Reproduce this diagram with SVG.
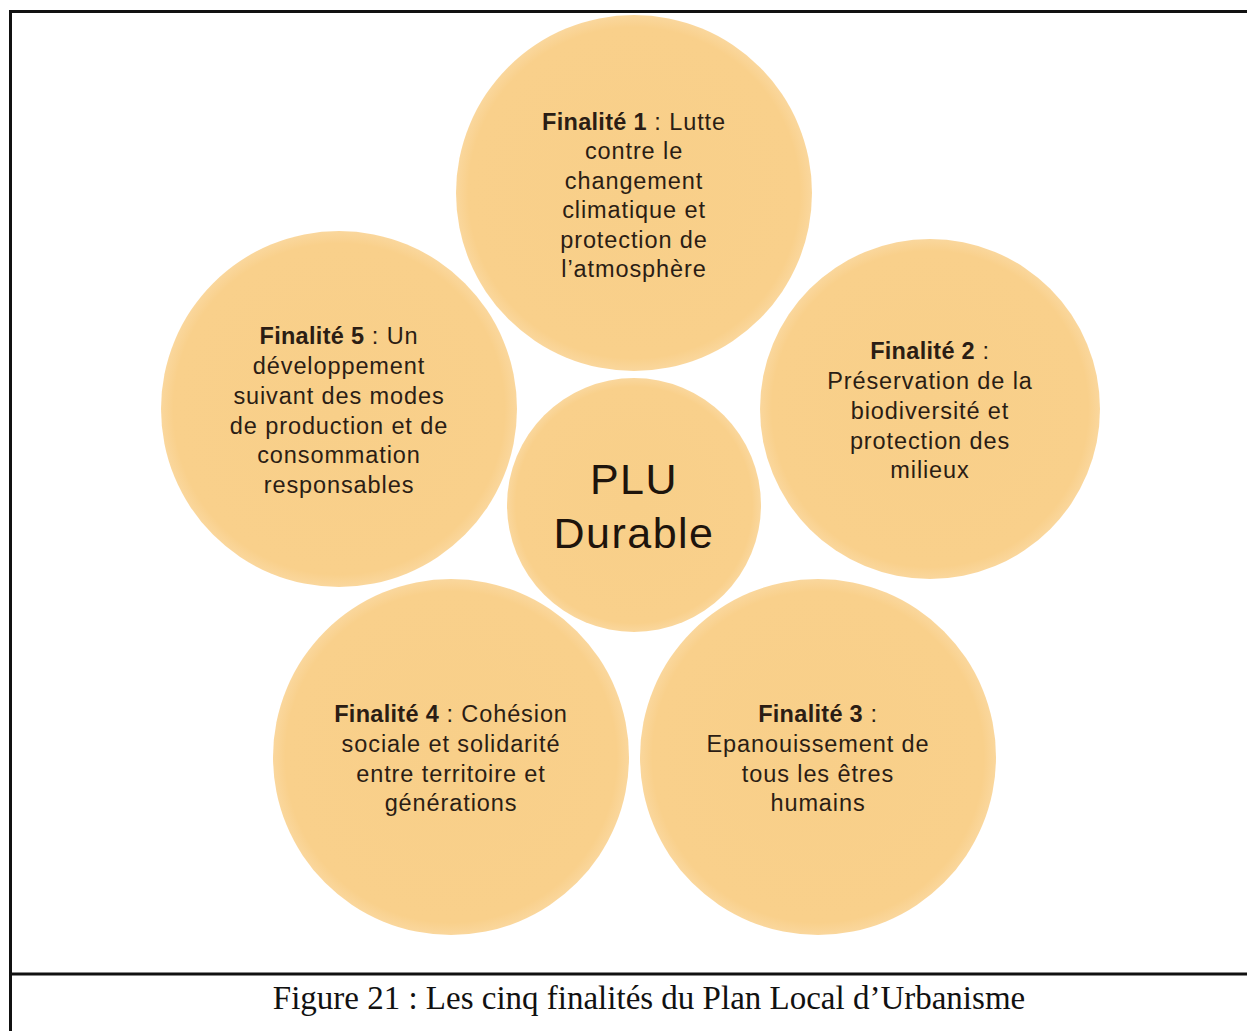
<svg xmlns="http://www.w3.org/2000/svg" width="1247" height="1031" viewBox="0 0 1247 1031">
<style>
.c{fill:url(#g)}
.t{font-family:"Liberation Sans",Arial,sans-serif;font-size:23.5px;letter-spacing:0.9px;fill:#2b1d14;text-anchor:middle}
.b{font-weight:bold;letter-spacing:0.3px}
.big{font-family:"Liberation Sans",Arial,sans-serif;font-size:43px;letter-spacing:1.5px;fill:#1e140c;text-anchor:middle}
.cap{font-family:"Liberation Serif","Times New Roman",serif;font-size:33px;fill:#111;text-anchor:middle}
.f{stroke:#111;stroke-width:3;fill:none}
</style>
<defs>
<radialGradient id="g" cx="50%" cy="50%" r="50%">
<stop offset="0" stop-color="#F8CF89"/>
<stop offset="0.93" stop-color="#F9D08B"/>
<stop offset="1" stop-color="#FAD79D"/>
</radialGradient>
</defs>
<rect width="1247" height="1031" fill="#fff"/>
<g id="frame">
<line class="f" x1="9" y1="11.5" x2="1247" y2="11.5"/>
<line class="f" x1="10.5" y1="10" x2="10.5" y2="1031"/>
<line class="f" x1="9" y1="974" x2="1247" y2="974"/>
</g>
<g id="connectors"></g>
<g id="n1">
<circle class="c" cx="634" cy="193" r="178"/>
<text class="t" x="634" y="130"><tspan class="b">Finalité 1</tspan> : Lutte</text>
<text class="t" x="634" y="159">contre le</text>
<text class="t" x="634" y="189">changement</text>
<text class="t" x="634" y="218">climatique et</text>
<text class="t" x="634" y="248">protection de</text>
<text class="t" x="634" y="277">l’atmosphère</text>
</g>
<g id="n2">
<circle class="c" cx="930" cy="409" r="170"/>
<text class="t" x="930" y="359"><tspan class="b">Finalité 2</tspan> :</text>
<text class="t" x="930" y="389">Préservation de la</text>
<text class="t" x="930" y="419">biodiversité et</text>
<text class="t" x="930" y="449">protection des</text>
<text class="t" x="930" y="478">milieux</text>
</g>
<g id="n3">
<circle class="c" cx="818" cy="757" r="178"/>
<text class="t" x="818" y="722"><tspan class="b">Finalité 3</tspan> :</text>
<text class="t" x="818" y="752">Epanouissement de</text>
<text class="t" x="818" y="782">tous les êtres</text>
<text class="t" x="818" y="811">humains</text>
</g>
<g id="n4">
<circle class="c" cx="451" cy="757" r="178"/>
<text class="t" x="451" y="722"><tspan class="b">Finalité 4</tspan> : Cohésion</text>
<text class="t" x="451" y="752">sociale et solidarité</text>
<text class="t" x="451" y="782">entre territoire et</text>
<text class="t" x="451" y="811">générations</text>
</g>
<g id="n5">
<circle class="c" cx="339" cy="409" r="178"/>
<text class="t" x="339" y="344"><tspan class="b">Finalité 5</tspan> : Un</text>
<text class="t" x="339" y="374">développement</text>
<text class="t" x="339" y="404">suivant des modes</text>
<text class="t" x="339" y="434">de production et de</text>
<text class="t" x="339" y="463">consommation</text>
<text class="t" x="339" y="493">responsables</text>
</g>
<g id="center">
<circle class="c" cx="634" cy="505" r="127"/>
<text class="big" x="634" y="494">PLU</text>
<text class="big" x="634" y="548">Durable</text>
</g>
<text class="cap" x="649" y="1009">Figure 21 : Les cinq finalités du Plan Local d’Urbanisme</text>
</svg>
